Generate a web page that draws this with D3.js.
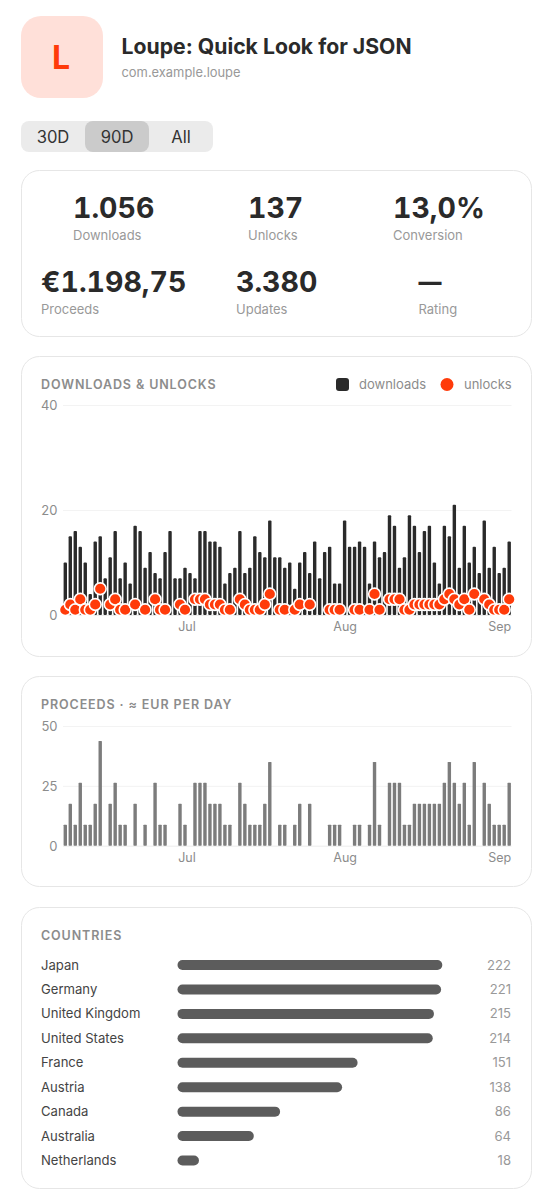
<!DOCTYPE html>
<html><head><meta charset="utf-8">
<script src="https://cdn.jsdelivr.net/npm/d3@7"></script>
<style>html,body{margin:0;padding:0;background:#fff}svg{display:block}text{font-family:Inter,"Noto Sans",sans-serif}</style>
</head><body><div id="c"></div>
<script>
const downloads=[10,15,16,13,10,4,14,15,7,11,16,7,10,6,17,16,9,12,8,7,12,16,7,7,9,8,7,16,16,14,14,13,6,8,9,16,8,9,15,12,11,18,11,11,9,10,5,10,12,8,14,7,12,13,6,6,18,13,13,14,13,6,14,11,12,19,17,9,11,19,17,12,16,17,10,6,17,15,21,9,17,10,13,8,18,9,13,8,9,14];
const unlocks=[1,2,1,3,1,1,2,5,0,2,3,1,1,0,2,0,1,0,3,1,1,0,0,2,1,0,3,3,3,2,2,2,1,1,0,3,2,1,1,1,2,4,0,1,1,0,1,2,0,2,0,0,0,1,1,1,0,0,1,1,0,1,4,1,0,3,3,3,1,1,2,2,2,2,2,2,3,4,3,2,3,1,4,0,3,2,1,1,1,3];
const eurPerUnlock=8.75;
const monthLabels=["Jul","Aug","Sep"];
const monthIndex=[24.3,56,87];
const countryNames=["Japan","Germany","United Kingdom","United States","France","Austria","Canada","Australia","Netherlands"];
const countryValues=[222,221,215,214,151,138,86,64,18];
const kpiValues=["1.056","137","13,0%","€1.198,75","3.380","—"];
const kpiLabels=["Downloads","Unlocks","Conversion","Proceeds","Updates","Rating"];
const rangeOptions=["30D","90D","All"];
const selectedRange="90D";
const downloadTicks=[0,20,40];
const proceedsTicks=[0,25,50];

const ink="#2a2a2a",orange="#ff3b0a",grey="#8c8c8c";
const svg=d3.select("#c").append("svg").attr("width",553).attr("height",1200);
const T=(s,x,y,size,weight,fill,anchor)=>svg.append("text").attr("x",x).attr("y",y).attr("font-size",size).attr("font-weight",weight).attr("fill",fill).attr("text-anchor",anchor||"start").text(s);

// header
svg.append("rect").attr("x",21).attr("y",16).attr("width",82).attr("height",82).attr("rx",20).attr("fill","#ffe0d9");
T("L",61,69,32,700,orange,"middle");
T("Loupe: Quick Look for JSON",121.5,54,21.2,700,ink);
T("com.example.loupe",121.5,76.6,12.9,400,"#999");

// range switch
const tabX=d3.scaleBand().domain(rangeOptions).range([21,213]);
svg.append("rect").attr("x",21).attr("y",121).attr("width",192).attr("height",31).attr("rx",8).attr("fill","#ebebeb");
svg.append("rect").attr("x",tabX(selectedRange)).attr("y",121).attr("width",tabX.bandwidth()).attr("height",31).attr("rx",8).attr("fill","#cbcbcb");
rangeOptions.forEach(r=>T(r,tabX(r)+tabX.bandwidth()/2,143,16.6,400,"#333","middle"));

// cards
const card=(y,h)=>svg.append("rect").attr("x",21.5).attr("y",y+.5).attr("width",510).attr("height",h).attr("rx",18).attr("fill","#fff").attr("stroke","#e6e6e6");
card(170,166);card(356,300);card(676,210);card(907,281);

// KPIs
const kpiX=[73,248,393,41,236,418.5];
const kpiY=[218,291.5];
kpiValues.forEach((v,i)=>{
  const r=i<3?0:1;
  const t=T(v,kpiX[i],kpiY[r],28.5,700,ink).style("font-variant-numeric","tabular-nums");
  if(v==="—") t.attr("textLength",23).attr("lengthAdjust","spacingAndGlyphs");
  T(kpiLabels[i],kpiX[i],kpiY[r]+22,13,400,"#999");
});

// shared x scale
const x=d3.scaleLinear().domain([0,downloads.length-1]).range([65.3,509.2]);
function axes(zeroY,y,ticks){
  ticks.forEach(t=>{
    svg.append("line").attr("x1",63).attr("x2",511.5).attr("y1",y(t)+.5).attr("y2",y(t)+.5).attr("stroke",t===0?"#ececec":"#f3f3f3");
    T(t,57.5,y(t)+4.8,13,400,grey,"end");
  });
  const g=svg.append("g").attr("transform",`translate(0,${zeroY+4})`)
    .call(d3.axisBottom(x).tickValues(monthIndex).tickSize(0).tickPadding(3).tickFormat((d,i)=>monthLabels[i]));
  g.select(".domain").remove();
  g.selectAll("text").attr("font-size",12.5).attr("fill",grey).style("font-family","Inter");
}

// downloads & unlocks
const y1=d3.scaleLinear().domain([0,40]).range([615,405]);
T("DOWNLOADS & UNLOCKS",41,388.5,12.5,600,grey).attr("letter-spacing",.9);
axes(615,y1,downloadTicks);
svg.append("g").selectAll("rect").data(downloads).join("rect")
  .attr("x",(d,i)=>x(i)-1.7).attr("width",3.4).attr("y",d=>y1(d)).attr("height",d=>y1(0)-y1(d)).attr("rx",1).attr("fill",ink);
svg.append("g").selectAll("circle").data(unlocks.map((u,i)=>({u,i})).filter(d=>d.u>0)).join("circle")
  .attr("cx",d=>x(d.i)).attr("cy",d=>y1(d.u)).attr("r",5.9).attr("fill",orange).attr("stroke","#fff").attr("stroke-width",1.6);
svg.append("rect").attr("x",336).attr("y",378).attr("width",13).attr("height",13).attr("rx",3).attr("fill",ink);
T("downloads",359,389,13,400,grey);
svg.append("circle").attr("cx",447).attr("cy",384.5).attr("r",6.5).attr("fill",orange);
T("unlocks",464,389,13,400,grey);

// proceeds
const y2=d3.scaleLinear().domain([0,50]).range([845.7,726]);
T("PROCEEDS · ≈ EUR PER DAY",41,709,12.5,600,grey).attr("letter-spacing",.9);
axes(845.7,y2,proceedsTicks);
svg.append("g").selectAll("rect").data(unlocks.map(u=>u*eurPerUnlock)).join("rect")
  .attr("x",(d,i)=>x(i)-1.7).attr("width",3.4).attr("y",d=>y2(d)).attr("height",d=>y2(0)-y2(d)).attr("rx",.6).attr("fill","#7c7c7c");

// countries
T("COUNTRIES",41,940,12.5,600,grey).attr("letter-spacing",.9);
const cy=d3.scalePoint().domain(countryNames).range([965,1160.5]);
const cx=d3.scaleLinear().domain([0,222]).range([177.5,442.3]);
countryNames.forEach((n,i)=>{
  const yy=cy(n);
  T(n,41,yy+4.5,13.1,400,"#444");
  svg.append("rect").attr("x",cx(0)).attr("y",yy-5).attr("width",cx(countryValues[i])-cx(0)).attr("height",10).attr("rx",5).attr("fill","#5c5c5c");
  T(countryValues[i],511,yy+4.5,13.1,400,"#999","end");
});
</script></body></html>
